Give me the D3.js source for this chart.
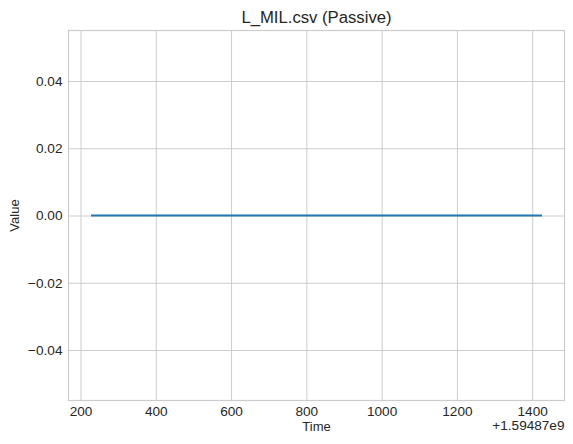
<!DOCTYPE html>
<html>
<head>
<meta charset="utf-8">
<script src="https://cdn.jsdelivr.net/npm/d3@7"></script>
<style>
  body { margin: 0; background: #fff; }
  text { font-family: "Liberation Sans", Arial, sans-serif; fill: #262626; }
</style>
</head>
<body>
<div class="chart"></div>
<script>
// data: time offsets (relative to 1.59487e9) and the sensor value
var timeOffset = 1.59487e9;
var times = [228, 328, 428, 528, 628, 728, 828, 928, 1028, 1128, 1228, 1328, 1426];
var values = [0, 0, 0, 0, 0, 0, 0, 0, 0, 0, 0, 0, 0];
var xTicks = [200, 400, 600, 800, 1000, 1200, 1400];
var yTicks = [-0.04, -0.02, 0.00, 0.02, 0.04];

var size = {'x' : 573, 'y' : 444};
var margin = {top: 30.5, right: 8.5, bottom: 43.5, left: 68.5};
var w = size.x - margin.left - margin.right;
var h = size.y - margin.top - margin.bottom;

var svg = d3.select('.chart')
  .append('svg')
    .attr('width', size.x)
    .attr('height', size.y);

// matplotlib style 5% margins
var xMin = d3.min(times), xMax = d3.max(times);
var pad = (xMax - xMin) * 0.05;
var x = d3.scaleLinear().domain([xMin - pad, xMax + pad]).range([0, w]);
var y = d3.scaleLinear().domain([-0.055, 0.055]).range([h, 0]);

var g = svg.append('g')
  .attr('transform', 'translate(' + margin.left + ',' + margin.top + ')');

//grid lines
g.append('g')
  .attr('transform', 'translate(0,' + h + ')')
  .call(d3.axisBottom(x).tickValues(xTicks).tickSize(-h).tickFormat(''))
  .call(function(a){ a.select('.domain').remove(); })
  .selectAll('line').attr('stroke', '#cccccc').attr('stroke-width', 1);

g.append('g')
  .call(d3.axisLeft(y).tickValues(yTicks).tickSize(-w).tickFormat(''))
  .call(function(a){ a.select('.domain').remove(); })
  .selectAll('line').attr('stroke', '#cccccc').attr('stroke-width', 1);

//spines
g.append('rect')
  .attr('width', w).attr('height', h)
  .attr('fill', 'none').attr('stroke', '#cccccc').attr('stroke-width', 1.2);

//tick labels
var xAxis = g.append('g')
  .attr('transform', 'translate(0,' + h + ')')
  .call(d3.axisBottom(x).tickValues(xTicks).tickSize(0).tickPadding(6).tickFormat(d3.format('d')));
xAxis.select('.domain').remove();
xAxis.selectAll('text').style('font-size', '13.6px').attr('fill', '#262626');

var yAxis = g.append('g')
  .call(d3.axisLeft(y).tickValues(yTicks).tickSize(0).tickPadding(6)
    .tickFormat(function(d){ return d3.format('.2f')(d).replace('-', '\u2212'); }));
yAxis.select('.domain').remove();
yAxis.selectAll('text').style('font-size', '13.6px').attr('fill', '#262626');

//the series
var data = times.map(function(t, i){ return {t: t, v: values[i]}; });
g.append('path')
  .datum(data)
  .attr('fill', 'none')
  .attr('stroke', '#1f77b4')
  .attr('stroke-width', 2.1)
  .attr('d', d3.line().x(function(d){ return x(d.t); }).y(function(d){ return y(d.v); }));

//labels
svg.append('text')
  .attr('x', margin.left + w / 2).attr('y', 22.5)
  .attr('text-anchor', 'middle').style('font-size', '16.7px')
  .text('L_MIL.csv (Passive)');

svg.append('text')
  .attr('x', margin.left + w / 2).attr('y', 431)
  .attr('text-anchor', 'middle').style('font-size', '13px')
  .text('Time');

svg.append('text')
  .attr('transform', 'translate(18.5,' + (margin.top + h / 2) + ') rotate(-90)')
  .attr('text-anchor', 'middle').style('font-size', '13px')
  .text('Value');

svg.append('text')
  .attr('x', margin.left + w).attr('y', 430)
  .attr('text-anchor', 'end').style('font-size', '13.6px')
  .text('+' + d3.format('.5e')(timeOffset).replace('e+', 'e').replace(/0+e/, 'e'));
</script>
</body>
</html>
